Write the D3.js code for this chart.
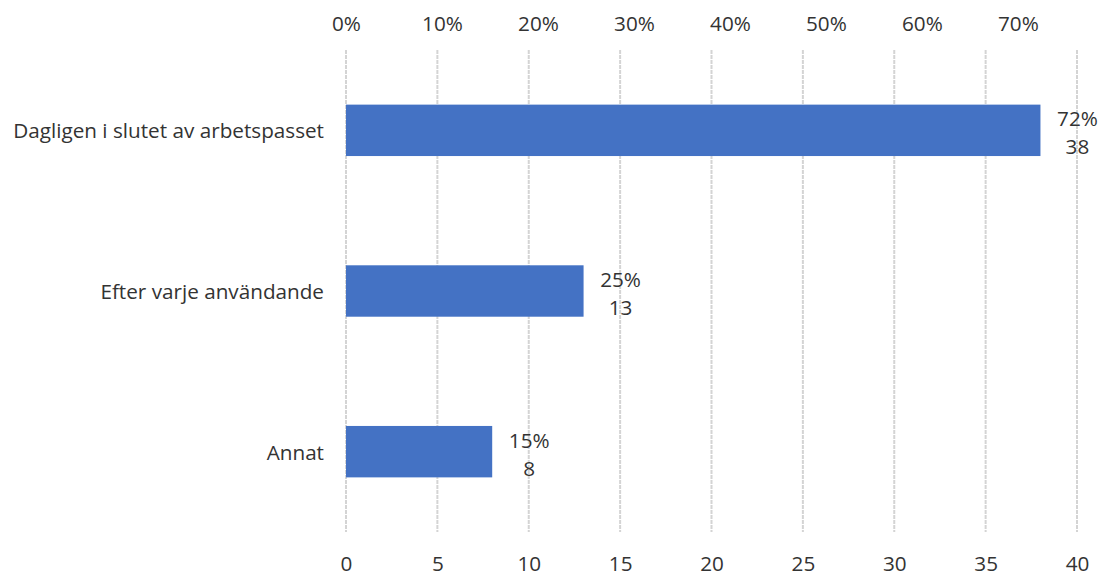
<!DOCTYPE html>
<html><head><meta charset="utf-8">
<script src="https://cdn.jsdelivr.net/npm/d3@7"></script>
<style>
html,body{margin:0;padding:0;background:#fff;}
text{font-family:"Open Sans","Liberation Sans",sans-serif;fill:#333333;}
</style></head>
<body>
<svg id="chart" width="1103" height="576"></svg>
<script>
const categories = ["Dagligen i slutet av arbetspasset", "Efter varje användande", "Annat"];
const counts = [38, 13, 8];
const percents = ["72%", "25%", "15%"];
const countTicks = [0, 5, 10, 15, 20, 25, 30, 35, 40];
const pctTicks = [0, 0.1, 0.2, 0.3, 0.4, 0.5, 0.6, 0.7];
const pctMax = 0.7616;

(function () {
const svg = d3.select("#chart");
const mLeft = 346, mRight = 1077, mTop = 50, mBottom = 532;
const fs = "20.7px";

const x = d3.scaleLinear().domain([0, 40]).range([mLeft, mRight]);
const xp = d3.scaleLinear().domain([0, pctMax]).range([mLeft, mRight]);
const y = d3.scaleBand().domain(categories).range([mTop, mBottom]).paddingInner(0.68).paddingOuter(0.34);

// gridlines
svg.append("g").selectAll("line").data(countTicks).join("line")
  .attr("x1", d => x(d)).attr("x2", d => x(d))
  .attr("y1", mTop).attr("y2", mBottom)
  .attr("stroke", "#d4d4d4").attr("stroke-width", 2).attr("stroke-dasharray", "4,1");

// bottom axis
const bAxis = svg.append("g").attr("transform", `translate(0,${mBottom})`)
  .call(d3.axisBottom(x).tickValues(countTicks).tickSize(0).tickPadding(24));
bAxis.select(".domain").remove();
bAxis.selectAll("text").style("font-size", fs).attr("fill", "#333333");

// top axis
const tAxis = svg.append("g").attr("transform", `translate(0,${mTop})`)
  .call(d3.axisTop(xp).tickValues(pctTicks).tickFormat(d3.format(".0%")).tickSize(0).tickPadding(19));
tAxis.select(".domain").remove();
tAxis.selectAll("text").style("font-size", fs).attr("fill", "#333333");

// category labels
svg.append("g").selectAll("text").data(categories).join("text")
  .attr("x", mLeft - 22).attr("y", d => y(d) + y.bandwidth() / 2)
  .attr("text-anchor", "end").attr("dominant-baseline", "central")
  .style("font-size", fs).text(d => d);

// bars
svg.append("g").selectAll("rect").data(categories).join("rect")
  .attr("x", x(0)).attr("y", d => y(d))
  .attr("width", (d, i) => x(counts[i]) - x(0)).attr("height", y.bandwidth())
  .attr("fill", "#4472c4");

// value labels
const lbl = svg.append("g").selectAll("text").data(categories).join("text")
  .attr("text-anchor", "middle").style("font-size", fs);
lbl.append("tspan").attr("x", (d, i) => x(counts[i]) + 37).attr("y", d => y(d) + y.bandwidth() / 2 - 12)
  .attr("dominant-baseline", "central").text((d, i) => percents[i]);
lbl.append("tspan").attr("x", (d, i) => x(counts[i]) + 37).attr("y", d => y(d) + y.bandwidth() / 2 + 16)
  .attr("dominant-baseline", "central").text((d, i) => counts[i]);
})();
</script>
</body></html>
